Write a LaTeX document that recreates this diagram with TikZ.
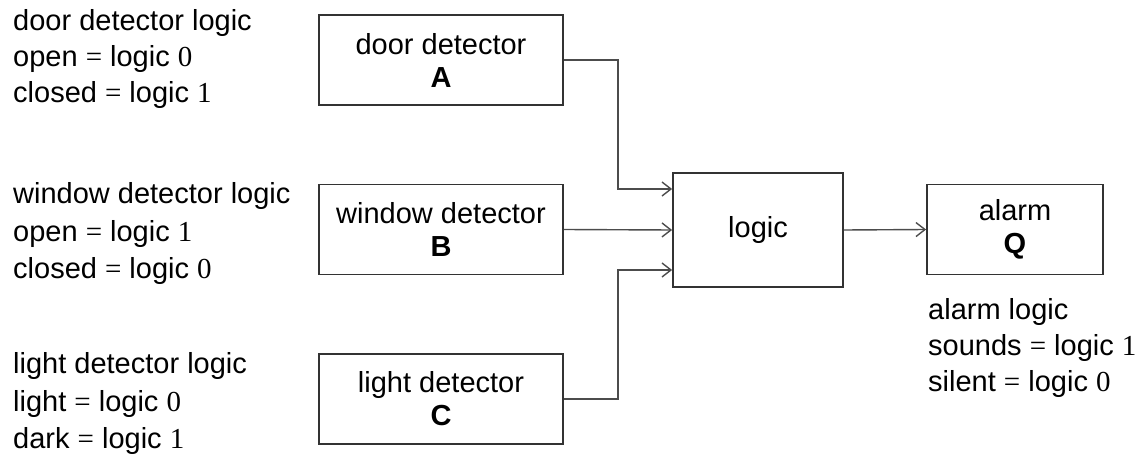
\documentclass[tikz,border=0pt]{standalone}
\usepackage{fontspec}
\setmainfont{Liberation Sans}
\newfontfamily\tnr{Liberation Serif}
\usetikzlibrary{arrows.meta,calc}
\newcommand{\eqv}[1]{{\tnr =} logic {\tnr #1}}
\begin{document}
\begin{tikzpicture}[x=1pt,y=-1pt,
  every node/.style={font=\fontsize{29}{33}\selectfont, inner sep=0pt},
  blk/.style={draw=black!80, line width=1.8pt, minimum height=90pt, align=center},
  lbl/.style={anchor=base west},
  conn/.style={draw=black!70, line width=1.4pt},
  arr/.style={conn, -{Straight Barb[length=9pt,width=14pt,line width=1.4pt]}}]
\useasboundingbox (0,0) rectangle (1147,457);
% blocks
\node[blk, minimum width=244pt] (A) at (441,60) {door detector\\\textbf{A}};
\node[blk, minimum width=244pt] (B) at (441,229.5) {window detector\\\textbf{B}};
\node[blk, minimum width=244pt] (C) at (441,399) {light detector\\\textbf{C}};
\node[blk, minimum width=170pt, minimum height=114pt] (L) at (758,230) {logic};
\node[blk, minimum width=176pt] (Q) at (1015,229.5) {alarm\\\textbf{Q}};
% connectors
\coordinate (ja) at (618,0);
\coordinate (inA) at ($(L.west)+(0,-41)$);
\coordinate (inC) at ($(L.west)+(0,40)$);
\draw[arr] (A.east) -| (ja |- inA) -- (inA);
\draw[arr] (B.east) -- (L.west);
\draw[arr] (C.east) -| (ja |- inC) -- (inC);
\draw[arr] (L.east) -- (Q.west);
% left texts
\node[lbl] (d1) at (13,31) {door detector logic};
\node[lbl] (d2) at (13,67) {open \eqv{0}};
\node[lbl] (d3) at (13,103) {closed \eqv{1}};
\node[lbl] (w1) at (13,203) {window detector logic};
\node[lbl] (w2) at (13,241) {open \eqv{1}};
\node[lbl] (w3) at (13,278) {closed \eqv{0}};
\node[lbl] (l1) at (13,373) {light detector logic};
\node[lbl] (l2) at (13,411) {light \eqv{0}};
\node[lbl] (l3) at (13,448) {dark \eqv{1}};
% alarm texts
\node[lbl] (q1) at (928,319) {alarm logic};
\node[lbl] (q2) at (928,355) {sounds \eqv{1}};
\node[lbl] (q3) at (928,391) {silent \eqv{0}};
\end{tikzpicture}
\end{document}
